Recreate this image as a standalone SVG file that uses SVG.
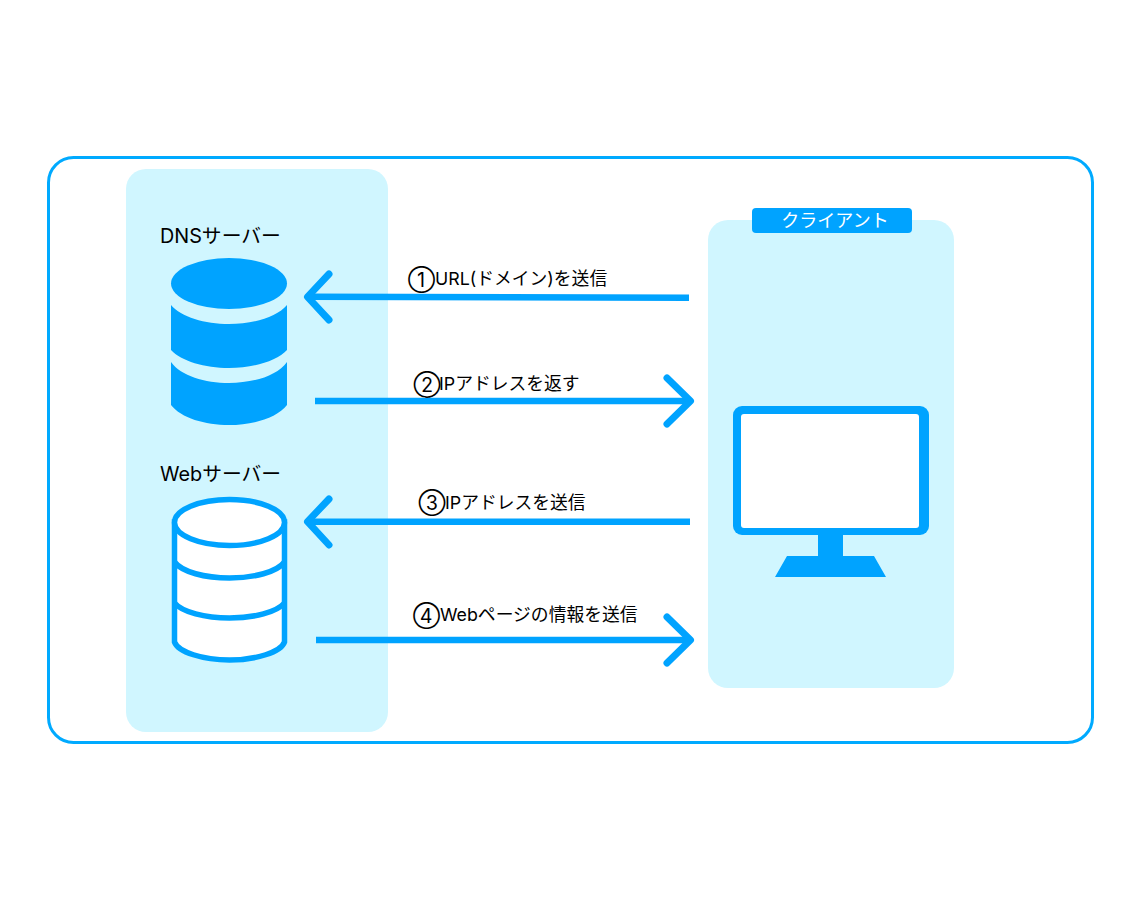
<svg xmlns="http://www.w3.org/2000/svg" width="1140" height="900" viewBox="0 0 1140 900">
<style>
text{font-family:Inter,"Noto Sans CJK JP",sans-serif;fill:#000}
.panel{fill:#d0f6ff}
.b{fill:#00a3ff}
.o{fill:#fff;stroke:#00a3ff;stroke-width:5.500}
.c{fill:none;stroke:#00a3ff;stroke-width:6.500;stroke-linecap:butt}
.h{fill:none;stroke:#00a3ff;stroke-width:7;stroke-linecap:round;stroke-linejoin:round}
.t{font-size:19.800px}
.l{font-size:17.800px}
.n{font-size:19.500px}
</style>
<rect id="frame" x="48.500" y="157.500" width="1044" height="585" rx="25" fill="#fff" stroke="#00aaff" stroke-width="3"/>
<g id="server-panel"><rect class="panel" x="126" y="169" width="262" height="563" rx="20"/></g>
<g id="client-panel"><rect class="panel" x="708" y="220" width="246" height="468" rx="20"/></g>
<g id="client-tag"><rect class="b" x="752" y="208" width="160" height="25" rx="4"/><text x="835" y="227" text-anchor="middle" style="font-size:18px;fill:#fff">クライアント</text></g>
<g id="dns-server">
<text class="t" x="160" y="243">DNSサーバー</text>
<ellipse class="b" cx="229" cy="283.500" rx="58" ry="25.500"/>
<path class="b" d="M171 305C181 317 205 324 229 324S277 317 287 305V350C277 361 253 368 229 368S181 361 171 350Z"/>
<path class="b" d="M171 362C181 376 205 383 229 383S277 376 287 362V405C277 418 253 425 229 425S181 418 171 405Z"/>
</g>
<g id="web-server">
<text class="t" x="160" y="481">Webサーバー</text>
<path class="o" d="M174.500 522V642C178 652 203 660 229.500 660S281 652 284.500 642V522Z"/>
<ellipse class="o" cx="229.500" cy="522.500" rx="55" ry="23"/>
<path class="o" style="fill:none" d="M174.500 562C182 572 205 578 229.500 578S277 572 284.500 562M174.500 603C182 612 205 618 229.500 618S277 612 284.500 603"/>
</g>
<g id="client">
<path class="b" d="M818 530H843V556H874L886 577H775L787 556H818Z"/>
<rect class="b" x="733" y="406" width="196" height="129" rx="9"/>
<rect x="741" y="414" width="178" height="114" rx="3" fill="#fff"/>
</g>
<g id="connectors">
<path class="c" d="M689 297.700L309 296.700"/>
<path class="h" d="M329 274L307.500 296.800L329 320"/>
<path class="c" d="M315 401H688"/>
<path class="h" d="M667 378L690.500 401L667 424"/>
<path class="c" d="M690 521.700H309"/>
<path class="h" d="M329 499L307.500 521.700L329 545"/>
<path class="c" d="M316 640H688"/>
<path class="h" d="M667 617L690.500 640L667 663"/>
</g>
<g id="labels">
<text><tspan class="n" x="408" y="287">①</tspan><tspan class="l" x="435" y="285">URL(ドメイン)を送信</tspan></text>
<text><tspan class="n" x="413.500" y="392">②</tspan><tspan class="l" x="439" y="390">IPアドレスを返す</tspan></text>
<text><tspan class="n" x="418.500" y="510">③</tspan><tspan class="l" x="445" y="509">IPアドレスを送信</tspan></text>
<text><tspan class="n" x="413" y="623">④</tspan><tspan class="l" x="440" y="621">Webページの情報を送信</tspan></text>
</g>
</svg>
